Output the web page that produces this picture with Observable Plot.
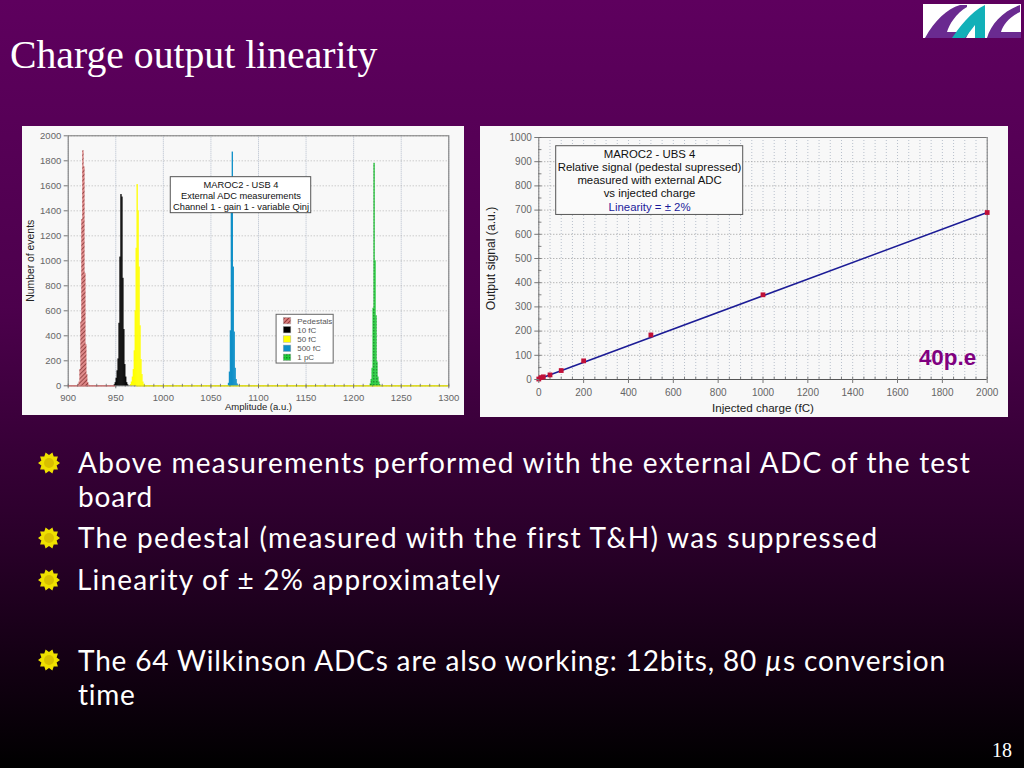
<!DOCTYPE html>
<html>
<head>
<meta charset="utf-8">
<script src="https://cdn.jsdelivr.net/npm/d3@7"></script>
<script src="https://cdn.jsdelivr.net/npm/@observablehq/plot@0.6"></script>
<style>
  html, body { margin: 0; padding: 0; }
  body { width: 1024px; height: 768px; position: relative; overflow: hidden;
         background: linear-gradient(#5e005e 0%, #4c004c 40%, #2a002a 70%, #000 100%); }
  .abs { position: absolute; }
  #title { left: 10px; top: 33px; font: 39.7px/44px "Liberation Serif", serif; color: #fff; white-space: nowrap; }
  #page { left: 992px; top: 737px; font: 20px/26px "Liberation Serif", serif; color: #fff; }
  #left-panel { left: 22px; top: 126px; background: #f8f8f8; }
  #right-panel { left: 480px; top: 126px; background: #f8f8f8; }
  .line { position: absolute; white-space: nowrap; color: #fff; font-family: "Comic Sans MS", "Lato", sans-serif; font-size: 28px; line-height: 34px; }
  svg { display: block; }
</style>
</head>
<body>
<div id="title" class="abs">Charge output linearity</div>
<svg class="abs" style="left:923px;top:4px" width="98" height="34" viewBox="0 0 98 34">
  <rect width="98" height="34" fill="#fff"/>
  <path d="M2 34 C12 16 24 5 37 1 L44 1 L44 3 C33 9 26 21 24 28 L46 28 L43 34 Z" fill="#6a2a90"/>
  <path d="M29 34 C36 24 47 8 62 1 L62 34 L52 34 L52 21 L42 34 Z" fill="#12b0b8"/>
  <path d="M64 34 C68 20 80 7 97 1 L97 8 C86 13 80 21 78 28 L98 28 L98 34 Z" fill="#6a2a90"/>
</svg>
<div id="left-panel" class="abs"></div>
<div id="right-panel" class="abs"></div>
<div id="page" class="abs">18</div>
<div id="bullets"></div>
<script>
"use strict";
// left chart: ADC amplitude histograms
const pedestalBins = [911, 912, 913, 914, 915, 916, 917, 918, 919, 920, 921, 922];
const pedestalCounts = [8, 30, 130, 510, 1330, 1880, 1750, 900, 330, 90, 25, 6];
const fC10Bins = [949, 950, 951, 952, 953, 954, 955, 956, 957, 958, 959, 960, 961, 962, 963];
const fC10Counts = [8, 25, 60, 120, 215, 500, 1030, 1530, 1510, 860, 450, 170, 70, 25, 8];
const fC50Bins = [966, 967, 968, 969, 970, 971, 972, 973, 974, 975, 976, 977, 978, 979, 980];
const fC50Counts = [10, 30, 70, 130, 280, 600, 1100, 1610, 1400, 950, 480, 210, 90, 30, 10];
const fC500Bins = [1069, 1070, 1071, 1072, 1073, 1074, 1075, 1076, 1077, 1078, 1079];
const fC500Counts = [20, 110, 440, 1400, 1870, 950, 430, 140, 50, 15, 5];
const pC1Bins = [1218, 1219, 1220, 1221, 1222, 1223, 1224, 1225, 1226, 1227, 1228];
const pC1Counts = [15, 50, 140, 620, 1780, 1000, 560, 190, 70, 30, 8];

const ampTicks = [900, 950, 1000, 1050, 1100, 1150, 1200, 1250, 1300];
const ampMinor = d3.range(900, 1301, 10);
const eventTicks = [0, 200, 400, 600, 800, 1000, 1200, 1400, 1600, 1800, 2000];

const legendNames = ["Pedestals", "10 fC", "50 fC", "500 fC", "1 pC"];
const legendFills = ["url(#hatch)", "#000000", "#ffff00", "#1090c8", "url(#dots)"];
const legendRowY = [517, 445, 370, 296, 224];

const leftNote = ["MAROC2 - USB 4", "External ADC measurements", "Channel 1 - gain 1 - variable Qinj"];
const leftNoteY = [1610, 1522, 1434];

// right chart: output signal vs injected charge
const chargeFc = [0, 10, 20, 50, 100, 200, 500, 1000, 2000];
const signalAu = [2, 8, 11, 19, 37, 77, 184, 350, 690];
const fitX = [0, 2000];
const fitY = [2, 690];

const chargeTicks = d3.range(0, 2001, 200);
const chargeMinor = d3.range(0, 2001, 50);
const signalTicks = d3.range(0, 1001, 100);
const signalMinor = d3.range(0, 1001, 50);

const rightNote = ["MAROC2 - UBS 4", "Relative signal (pedestal supressed)", "measured with external ADC", "vs injected charge", "Linearity = \u00b1 2%"];
const rightNoteY = [932, 878, 824, 768, 712];
const rightNoteFill = ["#111", "#111", "#111", "#111", "#1a1a9a"];

// slide text
const bulletLines = [
  { html: "Above measurements performed with the external ADC of the test", x: 78, base: 470, width: 893 },
  { html: "board", x: 78, base: 504, width: 75 },
  { html: "The pedestal (measured with the first T&amp;H) was suppressed", x: 78, base: 545, width: 800 },
  { html: "Linearity of \u00b1 2% approximately", x: 77, base: 587, width: 424 },
  { html: "The 64 Wilkinson ADCs are also working: 12bits, 80 <i>\u00b5</i>s conversion", x: 78, base: 668, width: 868 },
  { html: "time", x: 78, base: 702, width: 58 },
];
const bulletY = [463, 538, 580, 660];

const bins = (xs, ys) => xs.map((x, i) => ({ x1: x - 0.7, x2: x + 0.7, y: ys[i] }));
const AXIS = "#777";
const plain = d3.format("d");

function addPatterns(svg) {
  const defs = d3.select(svg).insert("defs", ":first-child");
  const hatch = defs.append("pattern").attr("id", "hatch").attr("width", 3).attr("height", 3)
    .attr("patternUnits", "userSpaceOnUse").attr("patternTransform", "rotate(45)");
  hatch.append("rect").attr("width", 3).attr("height", 3).attr("fill", "#dd8080");
  hatch.append("rect").attr("width", 1).attr("height", 3).attr("fill", "#903838");
  const dots = defs.append("pattern").attr("id", "dots").attr("width", 3).attr("height", 3)
    .attr("patternUnits", "userSpaceOnUse");
  dots.append("rect").attr("width", 3).attr("height", 3).attr("fill", "#22cc3a");
  dots.append("rect").attr("width", 1.5).attr("height", 1.5).attr("fill", "#0e8a22");
}

function renderLeft() {
  const legendRows = legendNames.map((name, i) => ({ name, fill: legendFills[i], y: legendRowY[i] }));
  const node = Plot.plot({
    width: 442, height: 289,
    marginLeft: 45.7, marginRight: 15.7, marginTop: 9.3, marginBottom: 29.7,
    style: { background: "transparent", fontFamily: "Liberation Sans, Arial, sans-serif", fontSize: "9.5px", color: "#666" },
    x: { domain: [900, 1300] },
    y: { domain: [0, 2000] },
    marks: [
      Plot.ruleX(ampTicks, { stroke: "#b4bdcc", strokeDasharray: "1 1" }),
      Plot.ruleY(eventTicks, { stroke: "#aaa", strokeWidth: 0.8, strokeDasharray: "1 2" }),
      Plot.frame({ stroke: AXIS }),
      Plot.ruleY([0], { x1: 900, x2: 950, stroke: "#d87070", strokeWidth: 1.2 }),
      Plot.ruleY([0], { x1: 972, x2: 1300, stroke: "#f4f000", strokeWidth: 1.2 }),
      Plot.ruleX(ampMinor, { y1: -10, y2: 12, stroke: "#666", strokeWidth: 0.8 }),
      Plot.rectY(bins(pedestalBins, pedestalCounts), { x1: "x1", x2: "x2", y: "y", fill: "url(#hatch)" }),
      Plot.rectY(bins(fC10Bins, fC10Counts), { x1: "x1", x2: "x2", y: "y", fill: "#000" }),
      Plot.rectY(bins(fC50Bins, fC50Counts), { x1: "x1", x2: "x2", y: "y", fill: "#ffff00" }),
      Plot.rectY(bins(fC500Bins, fC500Counts), { x1: "x1", x2: "x2", y: "y", fill: "#1090c8" }),
      Plot.rectY(bins(pC1Bins, pC1Counts), { x1: "x1", x2: "x2", y: "y", fill: "url(#dots)" }),
      // note box
      Plot.rect([0], { x1: 1007.8, x2: 1155.4, y1: 1381, y2: 1669, fill: "#fff", stroke: "#555" }),
      Plot.text(leftNote, { x: 1081.6, y: (d, i) => leftNoteY[i], text: (d) => d, fill: "#111", fontSize: 9.3 }),
      // legend
      Plot.rect([0], { x1: 1119, x2: 1179, y1: 178, y2: 568, fill: "#fff", stroke: "#666" }),
      Plot.rect(legendRows, { x1: 1126.5, x2: 1134.5, y1: (d) => d.y - 26, y2: (d) => d.y + 26, fill: "fill", stroke: "#aaa", strokeWidth: 0.5 }),
      Plot.text(legendRows, { x: 1140.7, y: "y", text: "name", textAnchor: "start", fill: "#555", fontSize: 8 }),
      Plot.axisX({ ticks: ampTicks, tickFormat: plain, tickSize: 3, tickPadding: 5, stroke: AXIS, label: null }),
      Plot.axisY({ ticks: eventTicks, tickFormat: plain, tickSize: 4, tickPadding: 3, stroke: AXIS, label: null }),
      Plot.text(["Amplitude (a.u.)"], { frameAnchor: "bottom", dy: 24, fontSize: 9.5, fill: "#222" }),
      Plot.text(["Number of events"], { frameAnchor: "left", textAnchor: "middle", rotate: -90, dx: -38, fontSize: 10.4, fill: "#222" }),
    ],
  });
  addPatterns(node);
  document.getElementById("left-panel").appendChild(node);
}

function renderRight() {
  const points = chargeFc.map((x, i) => ({ x, y: signalAu[i] }));
  const fit = fitX.map((x, i) => ({ x, y: fitY[i] }));
  const node = Plot.plot({
    width: 528, height: 291,
    marginLeft: 58.3, marginRight: 21.3, marginTop: 11, marginBottom: 38,
    style: { background: "transparent", fontFamily: "Liberation Sans, Arial, sans-serif", fontSize: "10px", color: "#666" },
    x: { domain: [0, 2000] },
    y: { domain: [0, 1000] },
    marks: [
      Plot.ruleX(chargeMinor, { stroke: "#b8c0cc", strokeDasharray: "1 2" }),
      Plot.ruleY(signalTicks, { stroke: "#999", strokeDasharray: "1 2" }),
      Plot.ruleX([0, 2000], { stroke: AXIS }),
      Plot.ruleY([1000], { stroke: AXIS }),
      Plot.ruleY([0], { stroke: "#555" }),
      Plot.ruleX(chargeMinor, { y1: 0, y2: 10, stroke: "#666", strokeWidth: 0.8 }),
      Plot.ruleY(signalMinor, { x1: 0, x2: 14, stroke: "#666", strokeWidth: 0.8 }),
      Plot.line(fit, { x: "x", y: "y", stroke: "#1c1c96", strokeWidth: 1.5 }),
      Plot.dot(points, { x: "x", y: "y", symbol: "square", r: 2.7, fill: "#c01038" }),
      Plot.rect([0], { x1: 77.6, x2: 911.7, y1: 680, y2: 964, fill: "#fafafa", stroke: "#555" }),
      Plot.text(rightNote, { x: 494, y: (d, i) => rightNoteY[i], text: (d) => d, fill: (d, i) => rightNoteFill[i], fontSize: 11.4 }),
      Plot.text(["40p.e"], { x: 1823, y: 90, text: (d) => d, fill: "#800080", fontSize: 22.4, fontWeight: "bold" }),
      Plot.axisX({ ticks: chargeTicks, tickFormat: plain, tickSize: 4, tickPadding: 5, stroke: AXIS, label: null }),
      Plot.axisY({ ticks: signalTicks, tickFormat: plain, tickSize: 4, tickPadding: 3, stroke: AXIS, label: null }),
      Plot.text(["Injected charge (fC)"], { frameAnchor: "bottom", dy: 32, fontSize: 11.6, fill: "#222" }),
      Plot.text(["Output signal (a.u.)"], { frameAnchor: "left", textAnchor: "middle", rotate: -90, dx: -48, fontSize: 12.2, fill: "#222" }),
    ],
  });
  document.getElementById("right-panel").appendChild(node);
}

function renderText() {
  const holder = document.getElementById("bullets");
  bulletLines.forEach((l) => {
    const s = document.createElement("div");
    s.className = "line";
    s.style.left = l.x + "px";
    s.style.top = (l.base - 25) + "px";
    s.innerHTML = l.html;
    holder.appendChild(s);
    // no Comic Sans here, so stretch the spacing to the measured line width
    const w = s.getBoundingClientRect().width;
    s.style.letterSpacing = ((l.width - w) / s.textContent.length) + "px";
  });
  bulletY.forEach((y) => {
    const n = 20;
    const pts = d3.range(n).map((i) => {
      const a = (i / n) * 2 * Math.PI, r = i % 2 ? 8 : 11;
      return `${11 + r * Math.cos(a)},${11 + r * Math.sin(a)}`;
    }).join(" ");
    const b = document.createElement("div");
    b.className = "abs";
    b.style.left = "38px";
    b.style.top = (y - 11) + "px";
    b.innerHTML = `<svg width="22" height="22"><polygon points="${pts}" fill="#efe000"/><circle cx="11" cy="11" r="5" fill="#d8c000"/></svg>`;
    holder.appendChild(b);
  });
}

renderLeft();
renderRight();
renderText();
</script>
</body>
</html>
